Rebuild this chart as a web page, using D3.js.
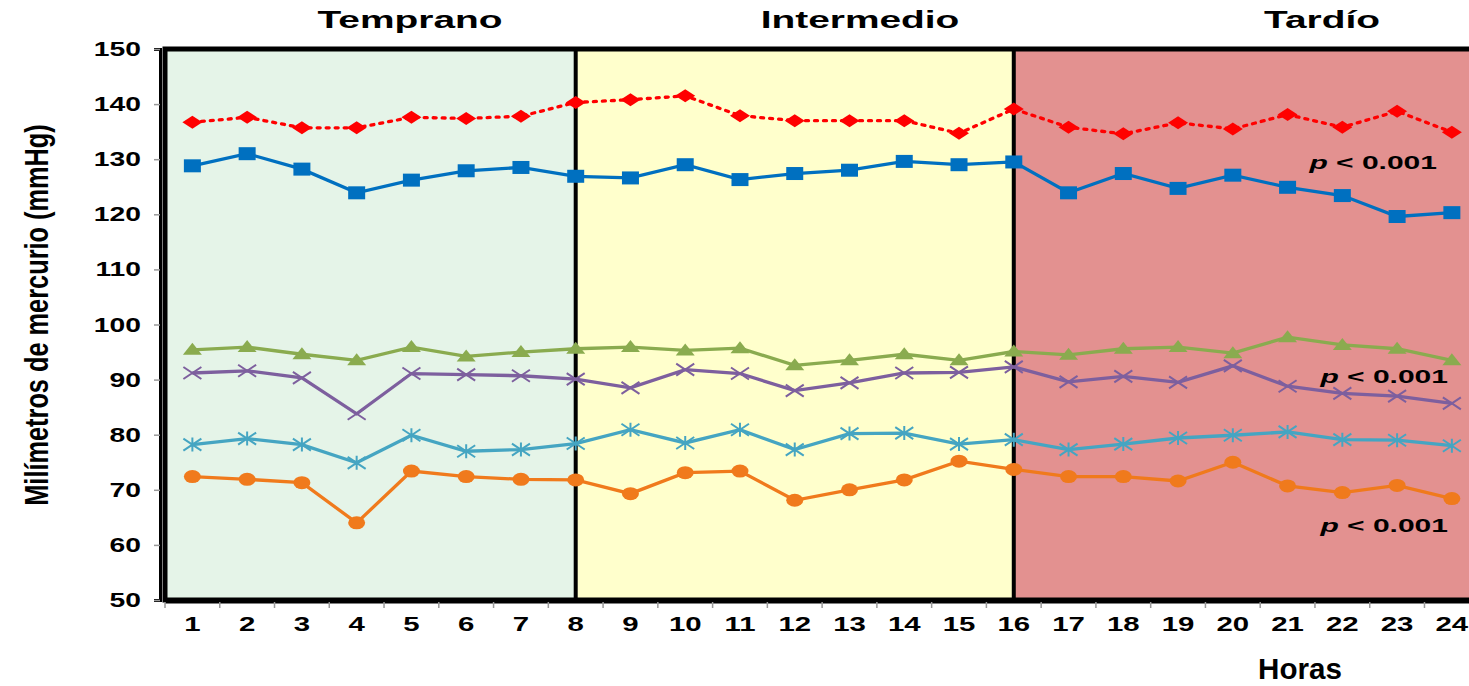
<!DOCTYPE html>
<html>
<head>
<meta charset="utf-8">
<script src="https://cdn.jsdelivr.net/npm/d3@7"></script>
<style>
  html, body { margin: 0; padding: 0; background: #fff; }
  svg { display: block; }
  text { font-family: "Liberation Sans", Arial, sans-serif; font-weight: bold; fill: #000; }
</style>
</head>
<body>
<svg id="chart" width="1469" height="686"></svg>
<script>
// Hourly blood pressure readings (mmHg), hours 1–24
const hours = d3.range(1, 25);
const yTicks = [50, 60, 70, 80, 90, 100, 110, 120, 130, 140, 150];

const seriesRed = [136.7, 137.6, 135.7, 135.7, 137.6, 137.4, 137.8, 140.3, 140.8, 141.5, 137.9, 137.0,
                   137.0, 137.0, 134.7, 139.1, 135.8, 134.6, 136.6, 135.5, 138.1, 135.8, 138.7, 134.9];
const seriesBlue = [128.8, 131.0, 128.2, 123.9, 126.2, 127.9, 128.5, 126.9, 126.6, 129.0, 126.3, 127.4,
                    128.0, 129.6, 129.0, 129.5, 123.9, 127.4, 124.7, 127.1, 124.9, 123.4, 119.6, 120.3];
const seriesGreen = [95.4, 95.9, 94.6, 93.5, 95.9, 94.2, 95.0, 95.6, 95.9, 95.3, 95.7, 92.6,
                     93.5, 94.6, 93.5, 95.1, 94.5, 95.6, 95.9, 94.8, 97.7, 96.3, 95.6, 93.5];
const seriesPurple = [91.2, 91.6, 90.3, 83.8, 91.1, 90.9, 90.7, 90.1, 88.5, 91.8, 91.1, 88.0,
                      89.4, 91.2, 91.3, 92.3, 89.6, 90.6, 89.5, 92.5, 88.8, 87.5, 87.0, 85.7];
const seriesCyan = [78.2, 79.3, 78.2, 74.9, 79.9, 77.0, 77.3, 78.4, 80.9, 78.5, 80.9, 77.3,
                    80.2, 80.3, 78.3, 79.1, 77.3, 78.3, 79.4, 79.9, 80.5, 79.1, 79.0, 78.0];
const seriesOrange = [72.4, 71.9, 71.3, 64.0, 73.4, 72.4, 71.9, 71.8, 69.3, 73.1, 73.4, 68.1,
                      70.0, 71.8, 75.2, 73.7, 72.4, 72.4, 71.6, 75.0, 70.7, 69.5, 70.8, 68.4];

// Periods of the day
const periodNames = ["Temprano", "Intermedio", "Tardío"];
const periodStart = [1, 8, 16];
const periodEnd = [8, 16, 24];
const periodLabelX = [410, 860, 1322];

// Significance annotations (value level of each label)
const pLabel = "< 0.001";
const pLevels = [129.5, 90.6, 63.6];

const svg = d3.select("#chart");

const plotLeft = 165, plotTop = 49, plotBottom = 600, step = 54.76;
const x = d3.scaleBand().domain(hours).range([plotLeft, plotLeft + step * hours.length]).paddingInner(0).paddingOuter(0);
const y = d3.scaleLinear().domain([50, 150]).range([plotBottom, plotTop]);
const cx = h => x(h) + x.bandwidth() / 2;
const plotRight = plotLeft + step * hours.length;

const bgColors = ["#e5f4e8", "#ffffcc", "#e39190"];

// Wide bold label helper
function wideText(px, py, str, size, sx, anchor) {
  return svg.append("text")
    .attr("transform", `translate(${px},${py}) scale(${sx},1)`)
    .attr("text-anchor", anchor || "middle")
    .style("font-size", size + "px")
    .text(str);
}

// Period backgrounds and headings
periodNames.forEach((name, i) => {
  const x0 = i === 0 ? plotLeft : cx(periodStart[i]);
  const x1 = i === periodNames.length - 1 ? plotRight : cx(periodEnd[i]);
  svg.append("rect")
    .attr("x", x0).attr("y", plotTop).attr("width", x1 - x0).attr("height", plotBottom - plotTop)
    .attr("fill", bgColors[i]);
  wideText(periodLabelX[i], 28, name, 24, 1.62);
});

// Dividers between periods
[8, 16].forEach(h => {
  svg.append("line")
    .attr("x1", cx(h)).attr("x2", cx(h)).attr("y1", plotTop).attr("y2", plotBottom)
    .attr("stroke", "#000").attr("stroke-width", 4);
});

// Plot frame
svg.append("rect")
  .attr("x", plotLeft).attr("y", plotTop).attr("width", plotRight - plotLeft).attr("height", plotBottom - plotTop)
  .attr("fill", "none").attr("stroke", "#000").attr("stroke-width", 5);

// Y axis
const yAxis = d3.axisLeft(y).tickValues(yTicks).tickSize(6).tickFormat("");
const gy = svg.append("g").attr("transform", `translate(${plotLeft - 5},0)`).call(yAxis);
gy.select(".domain").attr("stroke", "#000").attr("stroke-width", 3);
gy.selectAll(".tick line").attr("stroke", "#999").attr("stroke-width", 1.5);
yTicks.forEach(v => wideText(141, y(v) + 7, String(v), 19.5, 1.45, "end"));

// X axis (ticks on band edges, labels at centres)
const gx = svg.append("g").attr("transform", `translate(0,${plotBottom + 2})`);
gx.append("line").attr("x1", plotLeft).attr("x2", plotRight).attr("y1", 0).attr("y2", 0)
  .attr("stroke", "#000").attr("stroke-width", 3);
gx.selectAll("line.tk").data(hours.concat([25])).join("line").attr("class", "tk")
  .attr("x1", h => h <= 24 ? x(h) : plotRight).attr("x2", h => h <= 24 ? x(h) : plotRight)
  .attr("y1", 0).attr("y2", 6).attr("stroke", "#999").attr("stroke-width", 1.5);
hours.forEach(h => wideText(cx(h), 631, String(h), 21, 1.4));

// Axis titles
svg.append("text")
  .attr("transform", "translate(48,315) rotate(-90) scale(0.975,1.3)")
  .attr("text-anchor", "middle")
  .style("font-size", "26px")
  .text("Milímetros de mercurio (mmHg)");

wideText(1300, 679, "Horas", 29, 1.02);

// Series
const series = [
  { values: seriesRed, color: "#ff0000", dash: "3,6", marker: "diamond" },
  { values: seriesBlue, color: "#0070c0", dash: null, marker: "square" },
  { values: seriesGreen, color: "#8aab4f", dash: null, marker: "triangle" },
  { values: seriesPurple, color: "#7d5f9e", dash: null, marker: "x" },
  { values: seriesCyan, color: "#45a5c2", dash: null, marker: "star" },
  { values: seriesOrange, color: "#f07a1c", dash: null, marker: "circle" }
];

const line = d3.line().x((d, i) => cx(hours[i])).y(d => y(d));

series.forEach(s => {
  svg.append("path")
    .datum(s.values)
    .attr("d", line)
    .attr("fill", "none")
    .attr("stroke", s.color)
    .attr("stroke-width", 3.3)
    .attr("stroke-linecap", s.dash ? "round" : "butt")
    .attr("stroke-dasharray", s.dash);

  const g = svg.append("g");
  const pts = g.selectAll("g").data(s.values).join("g")
    .attr("transform", (d, i) => `translate(${cx(hours[i])},${y(d)})`);

  if (s.marker === "diamond") {
    pts.append("path").attr("d", "M-10,0L0,-6.5L10,0L0,6.5Z").attr("fill", s.color);
  } else if (s.marker === "square") {
    pts.append("rect").attr("x", -8.5).attr("y", -6.5).attr("width", 17).attr("height", 13).attr("fill", s.color);
  } else if (s.marker === "triangle") {
    pts.append("path").attr("d", "M0,-7L9.5,5L-9.5,5Z").attr("fill", s.color);
  } else if (s.marker === "circle") {
    pts.append("ellipse").attr("rx", 8.5).attr("ry", 6.5).attr("fill", s.color);
  } else if (s.marker === "x") {
    pts.append("path").attr("d", "M-9,-6L9,6M-9,6L9,-6").attr("stroke", s.color).attr("stroke-width", 2);
  } else if (s.marker === "star") {
    pts.append("path").attr("d", "M-9,-6L9,6M-9,6L9,-6M0,-7L0,7").attr("stroke", s.color).attr("stroke-width", 2);
  }
});

// Significance labels
pLevels.forEach((v, i) => {
  const t = wideText(i === 0 ? 1437 : 1448, y(v) + 7, "", 19, 1.58, "end");
  t.append("tspan").style("font-style", "italic").text("p");
  t.append("tspan").text(" " + pLabel);
});
</script>
</body>
</html>
